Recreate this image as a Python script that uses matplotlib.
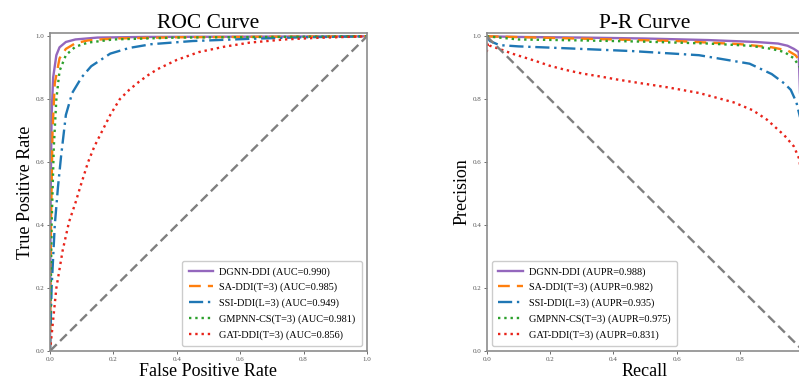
import matplotlib
matplotlib.use("Agg")
import matplotlib.pyplot as plt
import numpy as np

plt.rcParams['font.family'] = ['Liberation Serif', 'DejaVu Serif']

# ROC curves (false positive rate, true positive rate)
dgnn_fpr = [0, 0.002, 0.005, 0.01, 0.02, 0.03, 0.05, 0.08, 0.15, 0.3, 1.0]
dgnn_tpr = [0, 0.5, 0.75, 0.87, 0.94, 0.965, 0.982, 0.99, 0.996, 0.998, 1.0]
sa_fpr = [0, 0.003, 0.008, 0.015, 0.03, 0.05, 0.08, 0.12, 0.2, 0.4, 1.0]
sa_tpr = [0, 0.4, 0.7, 0.85, 0.93, 0.96, 0.978, 0.987, 0.993, 0.997, 1.0]
ssi_fpr = [0, 0.005, 0.015, 0.025, 0.035, 0.05, 0.07, 0.1, 0.13, 0.19, 0.25, 0.32, 0.45, 0.63, 0.8, 1.0]
ssi_tpr = [0, 0.2, 0.4, 0.52, 0.62, 0.75, 0.82, 0.87, 0.905, 0.945, 0.963, 0.975, 0.985, 0.992, 0.997, 1.0]
gmp_fpr = [0, 0.005, 0.012, 0.02, 0.03, 0.05, 0.08, 0.12, 0.2, 0.4, 1.0]
gmp_tpr = [0, 0.4, 0.65, 0.8, 0.89, 0.94, 0.967, 0.98, 0.99, 0.996, 1.0]
gat_fpr = [0, 0.01, 0.02, 0.04, 0.06, 0.08, 0.095, 0.12, 0.14, 0.16, 0.19, 0.22, 0.25, 0.28, 0.31,
           0.34, 0.4, 0.47, 0.55, 0.63, 0.74, 0.84, 1.0]
gat_tpr = [0, 0.1, 0.2, 0.32, 0.41, 0.47, 0.52, 0.6, 0.65, 0.69, 0.75, 0.8, 0.83, 0.855, 0.877,
           0.896, 0.925, 0.95, 0.967, 0.98, 0.99, 0.995, 1.0]

# P-R curves (recall, precision)
dgnn_rec = [0, 0.1, 0.3, 0.5, 0.7, 0.85, 0.92, 0.95, 0.97, 0.985, 1.0]
dgnn_pre = [1.0, 0.998, 0.996, 0.993, 0.988, 0.982, 0.977, 0.97, 0.96, 0.95, 0.5]
sa_rec = [0, 0.2, 0.4, 0.6, 0.8, 0.9, 0.95, 0.975, 0.99, 1.0]
sa_pre = [1.0, 0.995, 0.99, 0.985, 0.975, 0.965, 0.955, 0.94, 0.92, 0.5]
ssi_rec = [0, 0.01, 0.04, 0.1, 0.25, 0.46, 0.67, 0.83, 0.9, 0.94, 0.96, 0.978, 0.99, 1.0]
ssi_pre = [1.0, 0.985, 0.972, 0.968, 0.962, 0.953, 0.94, 0.913, 0.88, 0.85, 0.83, 0.79, 0.74, 0.5]
gmp_rec = [0, 0.1, 0.3, 0.5, 0.7, 0.83, 0.9, 0.94, 0.97, 0.99, 1.0]
gmp_pre = [1.0, 0.99, 0.987, 0.983, 0.977, 0.97, 0.96, 0.95, 0.93, 0.9, 0.5]
gat_rec = [0, 0.004, 0.01, 0.04, 0.08, 0.15, 0.2, 0.25, 0.3, 0.36, 0.41, 0.46, 0.57, 0.67, 0.78,
           0.84, 0.885, 0.94, 0.97, 0.987, 1.0]
gat_pre = [0.95, 0.98, 0.97, 0.96, 0.945, 0.923, 0.906, 0.893, 0.882, 0.872, 0.863, 0.855, 0.838,
           0.82, 0.79, 0.765, 0.735, 0.685, 0.65, 0.61, 0.5]

roc_labels = ['DGNN-DDI (AUC=0.990)', 'SA-DDI(T=3) (AUC=0.985)', 'SSI-DDI(L=3) (AUC=0.949)',
              'GMPNN-CS(T=3) (AUC=0.981)', 'GAT-DDI(T=3) (AUC=0.856)']
pr_labels = ['DGNN-DDI (AUPR=0.988)', 'SA-DDI(T=3) (AUPR=0.982)', 'SSI-DDI(L=3) (AUPR=0.935)',
             'GMPNN-CS(T=3) (AUPR=0.975)', 'GAT-DDI(T=3) (AUPR=0.831)']

colors = ['#9467bd', '#ff7f0e', '#1f77b4', '#2ca02c', '#e8231a']
styles = ['-', (0, (5, 3)), (0, (6, 2, 1, 2)), ':', ':']

fig = plt.figure(figsize=(7.99, 3.79), dpi=100)
ax1 = fig.add_axes([0.0626, 0.074, 0.3967, 0.8385])
ax2 = fig.add_axes([0.6092, 0.074, 0.3963, 0.8385])


def style_axes(ax):
    ax.set_xlim(0, 1)
    ax.set_ylim(0, 1.01)
    ax.set_xticks([0, 0.2, 0.4, 0.6, 0.8, 1.0])
    ax.set_yticks([0, 0.2, 0.4, 0.6, 0.8, 1.0])
    ax.tick_params(labelsize=5, length=2, width=0.6, colors='#555555', pad=2)
    for sp in ax.spines.values():
        sp.set_color('#8c8c8c')
        sp.set_linewidth(1.2)


leg_kw = dict(fontsize=7.4, handlelength=2.4, labelspacing=0.6, handletextpad=0.6,
              borderpad=0.6, edgecolor='#cccccc', framealpha=1)

roc = [(dgnn_fpr, dgnn_tpr), (sa_fpr, sa_tpr), (ssi_fpr, ssi_tpr), (gmp_fpr, gmp_tpr), (gat_fpr, gat_tpr)]
for (x, y), c, ls, lab in zip(roc, colors, styles, roc_labels):
    ax1.plot(x, y, color=c, linestyle=ls, lw=1.7, label=lab)
ax1.plot([0, 1], [0, 1], color='#7f7f7f', linestyle=(0, (4, 2)), lw=1.7)
style_axes(ax1)
ax1.set_title('ROC Curve', fontsize=15.5, pad=3)
ax1.set_xlabel('False Positive Rate', fontsize=13, labelpad=1)
ax1.set_ylabel('True Positive Rate', fontsize=13, labelpad=1)
ax1.legend(loc='lower right', **leg_kw)

pr = [(dgnn_rec, dgnn_pre), (sa_rec, sa_pre), (ssi_rec, ssi_pre), (gmp_rec, gmp_pre), (gat_rec, gat_pre)]
for (x, y), c, ls, lab in zip(pr, colors, styles, pr_labels):
    ax2.plot(x, y, color=c, linestyle=ls, lw=1.7, label=lab)
ax2.plot([0, 1], [1, 0], color='#7f7f7f', linestyle=(0, (4, 2)), lw=1.7)
style_axes(ax2)
# the 1.0 label falls outside the picture in the original
ax2.set_xticklabels(['0.0', '0.2', '0.4', '0.6', '0.8', ''])
ax2.set_title('P-R Curve', fontsize=15.5, pad=3)
ax2.set_xlabel('Recall', fontsize=13, labelpad=1)
ax2.set_ylabel('Precision', fontsize=13, labelpad=1)
ax2.legend(loc='lower left', **leg_kw)

fig.savefig('out.png', dpi=100)
